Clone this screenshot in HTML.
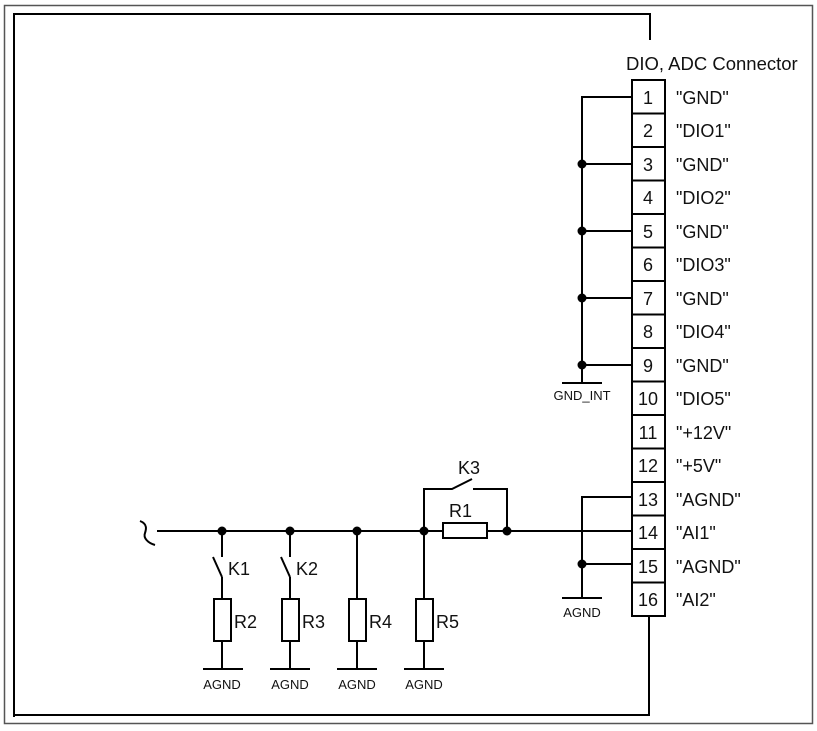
<!DOCTYPE html>
<html><head><meta charset="utf-8"><style>
html,body{margin:0;padding:0;background:#fff;}
svg{display:block;font-family:"Liberation Sans",Arial,sans-serif;}
</style></head><body>
<svg width="817" height="731" viewBox="0 0 817 731" xmlns="http://www.w3.org/2000/svg">
<rect x="0" y="0" width="817" height="731" fill="#fff"/>
<rect x="4.5" y="5.5" width="808" height="718" fill="none" stroke="#555" stroke-width="1.5"/>
<g stroke="#000" stroke-width="2" fill="none">
<polyline points="14,717 14,14 650,14 650,40"/>
<polyline points="14,715 649,715 649,616"/>
<rect x="632" y="80" width="33" height="536" fill="#fff"/>
<line x1="632" y1="113.5" x2="665" y2="113.5"/><line x1="632" y1="147" x2="665" y2="147"/>
<line x1="632" y1="180.5" x2="665" y2="180.5"/><line x1="632" y1="214" x2="665" y2="214"/>
<line x1="632" y1="247.5" x2="665" y2="247.5"/><line x1="632" y1="281" x2="665" y2="281"/>
<line x1="632" y1="314.5" x2="665" y2="314.5"/><line x1="632" y1="348" x2="665" y2="348"/>
<line x1="632" y1="381.5" x2="665" y2="381.5"/><line x1="632" y1="415" x2="665" y2="415"/>
<line x1="632" y1="448.5" x2="665" y2="448.5"/><line x1="632" y1="482" x2="665" y2="482"/>
<line x1="632" y1="515.5" x2="665" y2="515.5"/><line x1="632" y1="549" x2="665" y2="549"/>
<line x1="632" y1="582.5" x2="665" y2="582.5"/>
<polyline points="632,97 582,97 582,383"/>
<line x1="582" y1="164" x2="632" y2="164"/><line x1="582" y1="231" x2="632" y2="231"/>
<line x1="582" y1="298" x2="632" y2="298"/><line x1="582" y1="365" x2="632" y2="365"/>
<line x1="562" y1="383" x2="602" y2="383"/>
<polyline points="632,497 582,497 582,598"/>
<line x1="582" y1="564" x2="632" y2="564"/>
<line x1="562" y1="598" x2="602" y2="598"/>
<path d="M140,521 C148,524 146,530 145,533 C143,538 148,543 155,545"/>
<line x1="157" y1="531" x2="443" y2="531"/>
<rect x="443" y="523" width="44" height="15"/>
<line x1="487" y1="531" x2="632" y2="531"/>
<polyline points="424,531 424,489 452,489 472,479"/>
<polyline points="473,489 507,489 507,531"/>
<line x1="222" y1="531" x2="222" y2="557"/><line x1="213" y1="557" x2="222" y2="577"/><line x1="222" y1="577" x2="222" y2="599"/>
<line x1="290" y1="531" x2="290" y2="557"/><line x1="281" y1="557" x2="290" y2="577"/><line x1="290" y1="577" x2="290" y2="599"/>
<line x1="357" y1="531" x2="357" y2="599"/>
<line x1="424" y1="531" x2="424" y2="599"/>
<rect x="214" y="599" width="17" height="42"/><rect x="282" y="599" width="17" height="42"/>
<rect x="349" y="599" width="17" height="42"/><rect x="416" y="599" width="17" height="42"/>
<line x1="222" y1="641" x2="222" y2="669"/><line x1="290" y1="641" x2="290" y2="669"/>
<line x1="357" y1="641" x2="357" y2="669"/><line x1="424" y1="641" x2="424" y2="669"/>
<line x1="203" y1="669" x2="243" y2="669"/><line x1="270" y1="669" x2="310" y2="669"/>
<line x1="337" y1="669" x2="377" y2="669"/><line x1="404" y1="669" x2="444" y2="669"/>
</g>
<g fill="#000">
<circle cx="582" cy="164" r="4.5"/><circle cx="582" cy="231" r="4.5"/><circle cx="582" cy="298" r="4.5"/><circle cx="582" cy="365" r="4.5"/>
<circle cx="582" cy="564" r="4.5"/>
<circle cx="222" cy="531" r="4.5"/><circle cx="290" cy="531" r="4.5"/><circle cx="357" cy="531" r="4.5"/><circle cx="424" cy="531" r="4.5"/><circle cx="507" cy="531" r="4.5"/>
</g>
<g font-size="18" fill="#111">
<text x="626" y="70" font-size="18.5">DIO, ADC Connector</text>
<g text-anchor="middle">
<text x="648" y="104">1</text><text x="648" y="137">2</text><text x="648" y="171">3</text><text x="648" y="204">4</text>
<text x="648" y="238">5</text><text x="648" y="271">6</text><text x="648" y="305">7</text><text x="648" y="338">8</text>
<text x="648" y="372">9</text><text x="648" y="405">10</text><text x="648" y="439">11</text><text x="648" y="472">12</text>
<text x="648" y="506">13</text><text x="648" y="539">14</text><text x="648" y="573">15</text><text x="648" y="606">16</text>
</g>
<text x="676" y="104">"GND"</text><text x="676" y="137">"DIO1"</text><text x="676" y="171">"GND"</text><text x="676" y="204">"DIO2"</text>
<text x="676" y="238">"GND"</text><text x="676" y="271">"DIO3"</text><text x="676" y="305">"GND"</text><text x="676" y="338">"DIO4"</text>
<text x="676" y="372">"GND"</text><text x="676" y="405">"DIO5"</text><text x="676" y="439">"+12V"</text><text x="676" y="472">"+5V"</text>
<text x="676" y="506">"AGND"</text><text x="676" y="539">"AI1"</text><text x="676" y="573">"AGND"</text><text x="676" y="606">"AI2"</text>
<text x="458" y="474">K3</text><text x="449" y="517">R1</text>
<text x="228" y="575">K1</text><text x="296" y="575">K2</text>
<text x="234" y="628">R2</text><text x="302" y="628">R3</text><text x="369" y="628">R4</text><text x="436" y="628">R5</text>
</g>
<g font-size="13" fill="#111" text-anchor="middle">
<text x="582" y="400">GND_INT</text>
<text x="582" y="617">AGND</text>
<text x="222" y="689">AGND</text><text x="290" y="689">AGND</text><text x="357" y="689">AGND</text><text x="424" y="689">AGND</text>
</g>
</svg>
</body></html>
